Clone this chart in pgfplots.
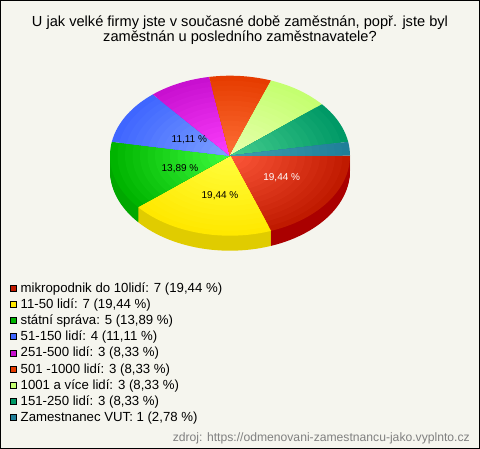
\documentclass[border=0pt]{standalone}
\usepackage{pgfplots}
\pgfplotsset{compat=1.18}
\usepackage{pgfplotstable}
\usepackage{fontspec}
\setmainfont{Liberation Sans}
\definecolor{bg}{HTML}{F5F5EE}
\newcommand{\cx}{230}\newcommand{\cy}{155.7}
\newcommand{\slice}[4]{% start, end, edge, centre
  \pgfmathtruncatemacro{\nsamp}{max(4,(#2-#1)/2)}%
  \foreach \k in {16,15,...,1}{%
    \pgfmathsetmacro{\rr}{\k/16}%
    \pgfmathtruncatemacro{\pp}{100*\k/16}%
    \edef\tmp{\noexpand\addplot[fill={#3!\pp!#4},draw=none,forget plot,domain=#1:#2,samples=\nsamp]
      ({\cx+\rr*120*cos(x)},{\cy+\rr*80*sin(x)}) -- (axis cs:\cx,\cy) -- cycle;}%
    \tmp
  }%
}
\newcommand{\side}[3]{% start,end,colour
  \foreach \s in {15,14,...,1}{%
    \edef\tmp{\noexpand\addplot[fill=#3,draw=none,forget plot,domain=#1:#2,samples=30]
      ({\cx+120*cos(x)},{\cy+\s+80*sin(x)}) -- (axis cs:\cx,\cy+\s) -- cycle;}%
    \tmp
  }%
}
\newcommand{\swatch}[1]{\addlegendimage{legend image code/.code={\draw[draw=black,line width=0.7pt,fill=#1] (0pt,-3pt) rectangle (6pt,3pt);}}}
\definecolor{s1}{HTML}{AA0000}\definecolor{s2}{HTML}{E0CC00}\definecolor{s3}{HTML}{00A800}
\definecolor{c1}{HTML}{C01A00}\definecolor{c1c}{HTML}{FF5A3C}
\definecolor{c2}{HTML}{FFE800}\definecolor{c2c}{HTML}{FFFF40}
\definecolor{c3}{HTML}{00B400}\definecolor{c3c}{HTML}{40FF40}
\definecolor{c4}{HTML}{3F66FF}\definecolor{c4c}{HTML}{80A4FF}
\definecolor{c5}{HTML}{C810D0}\definecolor{c5c}{HTML}{FF40FF}
\definecolor{c6}{HTML}{E63C00}\definecolor{c6c}{HTML}{FF7038}
\definecolor{c7}{HTML}{C4FF70}\definecolor{c7c}{HTML}{E8FFB0}
\definecolor{c8}{HTML}{009966}\definecolor{c8c}{HTML}{48D090}
\definecolor{c9}{HTML}{1F7F99}\definecolor{c9c}{HTML}{40A0B0}
\begin{document}
\begin{tikzpicture}
\begin{axis}[
  scale only axis,width=480pt,height=449pt,
  xmin=0,xmax=480,ymin=0,ymax=449,y dir=reverse,
  hide axis,clip=false,
  legend style={at={(axis cs:9.5,280.3)},anchor=north west,draw=none,fill=none,inner sep=0pt,outer sep=0pt,
    font=\fontsize{13.2}{15}\selectfont,
    nodes={inner sep=0pt,minimum height=16.13pt},row sep=0pt,column sep=4.5pt},
  legend cell align=left,
]
\addplot[forget plot,draw=none,fill=bg] coordinates {(0,0)(480,0)(480,449)(0,449)} -- cycle;
\addplot[forget plot,draw=black,line width=1pt] coordinates {(0.5,0.5)(479.5,0.5)(479.5,448.5)(0.5,448.5)(0.5,0.5)};
\side{0}{70}{s1}
\side{140}{180}{s3}
\side{70}{140}{s2}
\slice{0}{70}{c1}{c1c}
\slice{70}{140}{c2}{c2c}
\slice{140}{190}{c3}{c3c}
\slice{190}{230}{c4}{c4c}
\slice{230}{260}{c5}{c5c}
\slice{260}{290}{c6}{c6c}
\slice{290}{320}{c7}{c7c}
\slice{320}{350}{c8}{c8c}
\slice{350}{360}{c9}{c9c}
\swatch{c1}\addlegendentry{mikropodnik do 10lidí: 7 (19,44 \%)}
\swatch{c2}\addlegendentry{11-50 lidí: 7 (19,44 \%)}
\swatch{c3}\addlegendentry{státní správa: 5 (13,89 \%)}
\swatch{c4}\addlegendentry{51-150 lidí: 4 (11,11 \%)}
\swatch{c5}\addlegendentry{251-500 lidí: 3 (8,33 \%)}
\swatch{c6}\addlegendentry{501 -1000 lidí: 3 (8,33 \%)}
\swatch{c7}\addlegendentry{1001 a více lidí: 3 (8,33 \%)}
\swatch{c8}\addlegendentry{151-250 lidí: 3 (8,33 \%)}
\swatch{c9}\addlegendentry{Zamestnanec VUT: 1 (2,78 \%)}
\node[font=\fontsize{10}{12}\selectfont,white] at (axis cs:281.7,178) {19,44 \%};
\node[font=\fontsize{10}{12}\selectfont] at (axis cs:220,196) {19,44 \%};
\node[font=\fontsize{10}{12}\selectfont] at (axis cs:180,169) {13,89 \%};
\node[font=\fontsize{10}{12}\selectfont] at (axis cs:189.3,139.3) {11,11 \%};
\node[font=\fontsize{14.6}{15}\selectfont,align=center] at (axis cs:240,30.5) {U jak velké firmy jste v současné době zaměstnán, popř. jste byl\\zaměstnán u posledního zaměstnavatele?};
\node[font=\fontsize{12.15}{14}\selectfont,text=black!50,anchor=east] at (axis cs:473.3,438) {zdroj: https://odmenovani-zamestnancu-jako.vyplnto.cz};
\end{axis}
\end{tikzpicture}
\end{document}
